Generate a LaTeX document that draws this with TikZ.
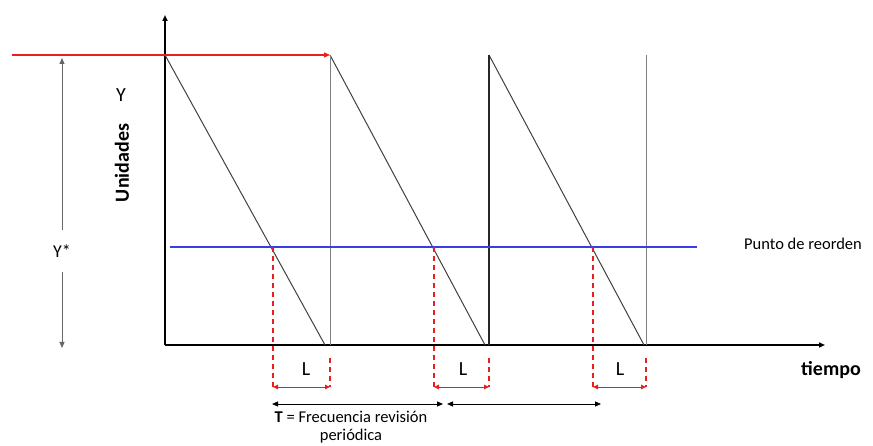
\documentclass[tikz,border=0pt]{standalone}
\usepackage{fontspec}
\setmainfont{Carlito}
\usetikzlibrary{arrows.meta}
\begin{document}
\begin{tikzpicture}[
  x=1pt, y=-1pt,
  tip/.style={-{Triangle[length=6pt,width=5pt]}},
  axis/.style={draw=black, line width=1.6pt, tip},
  saw/.style={draw=black!75, line width=1pt},
  wall/.style={draw=black!50, line width=1pt},
  order/.style={draw={rgb,255:red,235;green,30;blue,30}, line width=1.2pt, tip},
  reorder/.style={draw={rgb,255:red,60;green,60;blue,230}, line width=1.5pt},
  cut/.style={draw={rgb,255:red,235;green,30;blue,30}, line width=1.1pt, dash pattern=on 5pt off 4pt},
  lead/.style={draw={rgb,255:red,235;green,30;blue,30}, line width=1pt,
    {Triangle[length=5pt,width=4.5pt]}-{Triangle[length=5pt,width=4.5pt]}},
  period/.style={draw=black, line width=1pt,
    {Triangle[length=6pt,width=5pt]}-{Triangle[length=6pt,width=5pt]}},
  txt/.style={inner sep=0pt, font=\fontsize{16.5}{20}\selectfont},
  big/.style={inner sep=0pt, font=\fontsize{20}{24}\selectfont}
]
\useasboundingbox (0,0) rectangle (873,446);

% ejes
\coordinate (o) at (165,345);
\coordinate (ytop) at (165,15);
\coordinate (xend) at (825,345);
\draw[axis] (o) -- (ytop);
\draw[axis] (o) -- (xend);

% dientes de sierra
\coordinate (t0) at (165,55);
\coordinate (t1) at (330,55);
\coordinate (t2) at (489,55);
\coordinate (t3) at (646,55);
\coordinate (e1) at (325,345);
\coordinate (e2) at (485,345);
\coordinate (e3) at (644,345);
\coordinate (b1) at (330,345);
\coordinate (b2) at (489,345);
\coordinate (b3) at (646,345);
\draw[saw] (t0) -- (e1);
\draw[saw] (t1) -- (e2);
\draw[saw] (t2) -- (e3);
\draw[wall] (t1) -- (b1);
\draw[draw=black!85, line width=1.3pt] (t2) -- (b2);
\draw[wall] (t3) -- (b3);

% nivel maximo
\coordinate (rstart) at (12,55);
\draw[order] (rstart) -- (t1);

% punto de reorden
\coordinate (p0) at (170,247);
\coordinate (p1) at (697,247);
\draw[reorder] (p0) -- (p1);
\node[txt] (reord) at (803,244) {Punto de reorden};

% tiempos de entrega
\coordinate (r1) at (273,247);
\coordinate (r2) at (434,247);
\coordinate (r3) at (593,247);
\coordinate (l1a) at (273,387);
\coordinate (l1b) at (330,387);
\coordinate (l1c) at (330,358);
\coordinate (l2a) at (434,387);
\coordinate (l2b) at (489,387);
\coordinate (l2c) at (489,358);
\coordinate (l3a) at (593,387);
\coordinate (l3b) at (646,387);
\coordinate (l3c) at (646,358);
\draw[cut] (r1) -- (l1a);
\draw[cut] (l1c) -- (l1b);
\draw[cut] (r2) -- (l2a);
\draw[cut] (l2c) -- (l2b);
\draw[cut] (r3) -- (l3a);
\draw[cut] (l3c) -- (l3b);
\draw[lead] (l1a) -- (l1b);
\draw[lead] (l2a) -- (l2b);
\draw[lead] (l3a) -- (l3b);
\node[big] (lbl1) at (306,369) {L};
\node[big] (lbl2) at (463,369) {L};
\node[big] (lbl3) at (620,369) {L};

% periodo de revision
\coordinate (pa) at (272,404);
\coordinate (pb) at (443,404);
\coordinate (pc) at (447,404);
\coordinate (pd) at (601,404);
\draw[period] (pa) -- (pb);
\draw[period] (pc) -- (pd);
\node[txt, align=center, font=\fontsize{16.5}{18}\selectfont] (freq) at (351,427) {\textbf{T} = Frecuencia revisión\\periódica};

% rotulos de los ejes
\node[big] (ylbl) at (121,95) {Y};
\node[big, font=\fontsize{20}{24}\selectfont\bfseries, rotate=90] (units) at (122,163) {Unidades};
\node[big, font=\fontsize{20}{24}\selectfont\bfseries] (time) at (831,370) {tiempo};

% Y*
\node[inner sep=0pt, minimum height=42pt, font=\fontsize{18}{20}\selectfont] (ystar) at (62,251) {Y*};
\coordinate (ymax) at (62,58);
\coordinate (ymin) at (62,348);
\draw[draw=black!60, line width=0.9pt, tip] (ystar.north) -- (ymax);
\draw[draw=black!60, line width=0.9pt, tip] (ystar.south) -- (ymin);
\end{tikzpicture}
\end{document}
